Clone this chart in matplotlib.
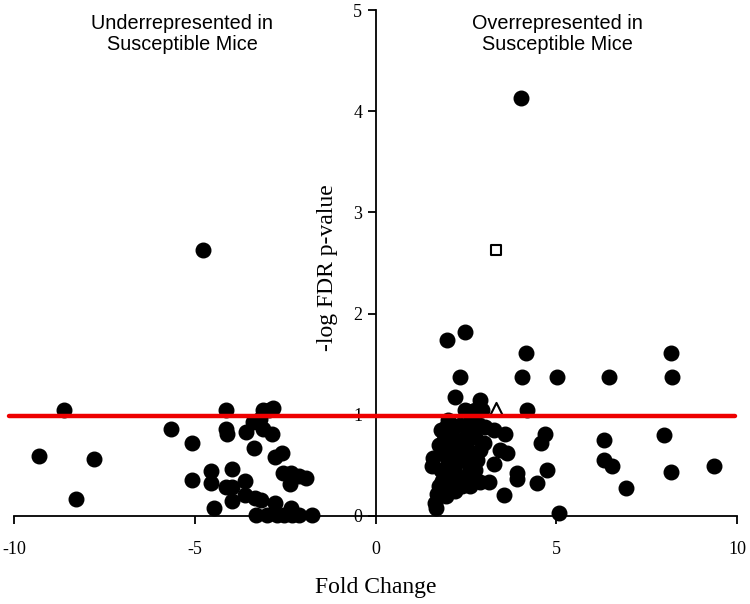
import numpy as np
import matplotlib
matplotlib.use("Agg")
import matplotlib.pyplot as plt

plt.rcParams['axes.unicode_minus'] = False

# Left side (underrepresented)
left_x = [-8.61, -9.32, -7.78, -8.29, -5.67, -5.09, -5.09, -4.46, -4.54, -4.54,
          -4.15, -4.15, -4.10, -3.96, -4.13, -3.96, -3.96, -3.60, -3.57, -3.60,
          -3.35, -3.38, -3.10, -2.83, -3.10, -2.85, -3.33, -3.16, -2.77, -2.60,
          -2.77, -2.55, -2.33, -2.13, -1.91, -2.36, -2.33, -3.30, -3.00, -2.72,
          -2.54, -2.31, -2.12, -1.77, -4.76, -2.95, -3.20]
left_y = [1.045, 0.59, 0.56, 0.17, 0.86, 0.72, 0.355, 0.08, 0.44, 0.33,
          1.045, 0.86, 0.81, 0.46, 0.29, 0.29, 0.15, 0.35, 0.83, 0.21,
          0.67, 0.93, 1.045, 1.065, 0.86, 0.81, 0.18, 0.16, 0.58, 0.62,
          0.13, 0.42, 0.42, 0.40, 0.38, 0.32, 0.08, 0.01, 0.01, 0.01,
          0.01, 0.01, 0.01, 0.01, 2.63, 1.045, 0.96]

# Right side (overrepresented)
right_x = [4.02, 1.99, 2.48, 4.15, 8.17, 2.33, 4.04, 5.02, 6.45, 8.19,
           2.21, 2.88, 4.18, 2.48, 2.76, 2.94, 6.32, 7.98, 4.70, 4.59,
           6.32, 6.53, 8.16, 9.35, 6.93, 4.74, 4.46, 3.90, 3.90, 3.55,
           5.07, 3.57, 3.27, 3.04, 3.64, 3.45, 3.27, 3.13, 2.90, 2.99,
           2.52, 2.65,
           1.55, 1.65, 1.70, 1.75, 1.60, 1.80, 1.85, 1.90, 1.95, 2.00,
           2.05, 2.10, 2.10, 2.15, 2.20, 2.25, 2.30, 2.30, 2.35, 2.40,
           2.45, 2.50, 2.55, 2.60, 2.65, 2.70, 2.75, 2.80, 2.85, 2.90,
           1.75, 1.85, 1.95, 2.00, 2.20, 2.40, 1.68, 1.80, 2.60, 2.75]
right_y = [4.13, 1.74, 1.82, 1.61, 1.61, 1.37, 1.37, 1.37, 1.37, 1.37,
           1.18, 1.15, 1.045, 1.045, 1.045, 1.045, 0.75, 0.80, 0.81, 0.72,
           0.55, 0.49, 0.43, 0.49, 0.28, 0.45, 0.33, 0.42, 0.37, 0.21,
           0.03, 0.81, 0.85, 0.88, 0.62, 0.65, 0.51, 0.34, 0.34, 0.72,
           1.04, 0.95,
           0.49, 0.13, 0.22, 0.30, 0.57, 0.45, 0.62, 0.75, 0.88, 0.55,
           0.40, 0.68, 0.82, 0.30, 0.50, 0.60, 0.75, 0.40, 0.90, 0.55,
           0.35, 0.70, 0.85, 0.48, 0.62, 0.38, 0.78, 0.55, 0.90, 0.65,
           0.70, 0.35, 0.20, 0.95, 0.25, 0.30, 0.08, 0.85, 0.30, 0.45]

# open markers
square_x, square_y = [3.32], [2.63]
triangle_x, triangle_y = [3.34], [1.06]

cutoff = 0.985

fig = plt.figure(figsize=(7.5, 6.04), dpi=100)
ax = fig.add_axes([0.0187, 0.1457, 0.964, 0.8377])

ax.scatter(left_x + right_x, left_y + right_y, s=110, c='black', zorder=3, clip_on=False)
ax.scatter(square_x, square_y, s=60, marker='s', facecolors='white', edgecolors='black',
           linewidths=1.5, zorder=3)
ax.scatter(triangle_x, triangle_y, s=90, marker='^', facecolors='white', edgecolors='black',
           linewidths=1.5, zorder=3)
ax.plot([-10.15, 9.95], [cutoff, cutoff], color='#ee0000', lw=3.2,
        solid_capstyle='round', zorder=4, clip_on=False)

ax.set_xlim(-10, 10)
ax.set_ylim(0, 5)
ax.spines['left'].set_position(('data', 0))
ax.spines['top'].set_visible(False)
ax.spines['right'].set_visible(False)
ax.spines['left'].set_linewidth(1.3)
ax.spines['bottom'].set_linewidth(1.3)
ax.set_xticks([-10, -5, 0, 5, 10])
ax.set_yticks([0, 1, 2, 3, 4, 5])
ax.tick_params(direction='out', length=6, width=1.3, labelsize=13)
for lab in ax.get_xticklabels() + ax.get_yticklabels():
    lab.set_fontfamily('Liberation Serif')
ax.tick_params(axis='x', pad=12)

fig.text(376 / 750, 1 - 588 / 604, 'Fold Change', ha='center', va='center',
         fontfamily='Liberation Serif', fontsize=17)
fig.text(328 / 750, 1 - 268 / 604, '-log FDR p-value', ha='center', va='center',
         rotation=90, fontfamily='Liberation Serif', fontsize=17)

ax.text(-5.35, 4.76, 'Underrepresented in\nSusceptible Mice', ha='center', va='center',
        fontfamily='Liberation Sans', fontsize=14.3, linespacing=1.15)
ax.text(5.04, 4.76, 'Overrepresented in\nSusceptible Mice', ha='center', va='center',
        fontfamily='Liberation Sans', fontsize=14.3, linespacing=1.15)

fig.savefig('out.png', dpi=100)
